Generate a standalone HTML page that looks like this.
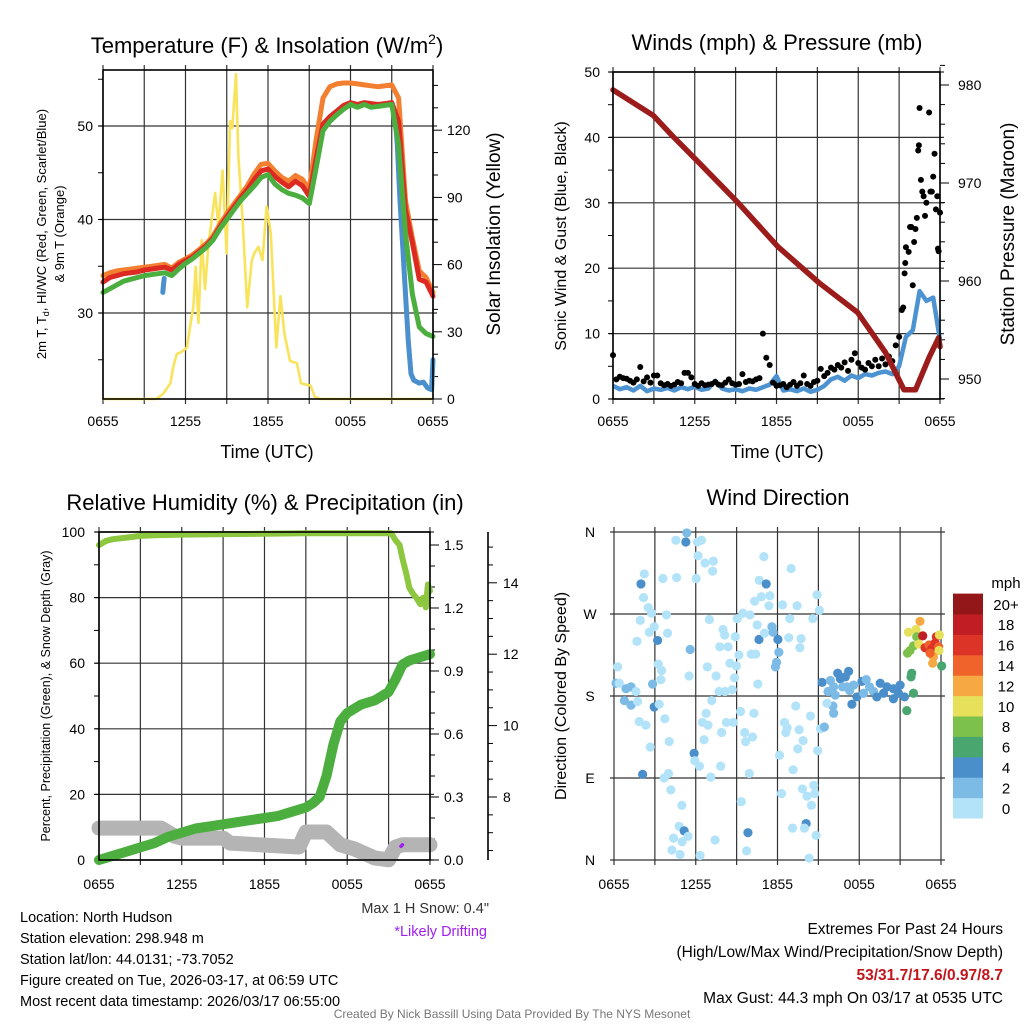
<!DOCTYPE html>
<html><head><meta charset="utf-8"><style>
html,body{margin:0;padding:0;background:#fff;}
svg{display:block;font-family:"Liberation Sans",sans-serif;}
</style></head><body>
<svg id="c" width="1024" height="1024" viewBox="0 0 1024 1024" xmlns="http://www.w3.org/2000/svg"></svg>
<script>
// ---------- DATA ----------
const tempHours = [0,0.5,1,1.5,2,2.5,3,3.5,4,4.5,5,5.5,6,6.5,7,7.5,8,8.5,9,9.5,10,10.5,11,11.5,12,12.5,13,13.5,14,14.5,15,15.5,16,16.5,17,17.5,18,18.5,19,19.5,20,20.5,21,21.5,22,22.5,23,23.5,24];
const tempRed = [33.3,33.8,34.0,34.2,34.3,34.4,34.6,34.7,34.8,34.9,34.6,35.2,35.6,36.0,36.6,37.2,38.0,39.2,40.3,41.3,42.3,43.2,44.3,45.2,45.4,44.6,44.0,43.5,44.1,43.6,42.5,46.5,50.2,51.0,51.6,52.2,52.5,52.3,52.5,52.4,52.3,52.4,52.5,50.5,41.0,37.5,33.6,33.3,31.8];
const temp9m = [34.0,34.3,34.5,34.6,34.7,34.8,34.9,35.0,35.1,35.2,34.8,35.4,35.8,36.2,36.8,37.4,38.2,39.5,40.6,41.6,42.6,43.6,44.9,45.9,46.0,45.2,44.5,44.1,44.7,44.3,43.2,48.5,53.0,54.2,54.5,54.6,54.6,54.5,54.4,54.3,54.2,54.3,54.4,53.0,42.0,38.0,34.5,33.8,32.2];
const dewGreen = [32.2,32.6,33.0,33.4,33.6,33.8,34.0,34.1,34.2,34.3,34.0,34.7,35.3,35.8,36.4,37.0,37.8,39.0,40.0,41.0,42.0,42.8,43.6,44.5,44.8,43.8,43.2,42.8,42.6,42.3,41.7,45.5,49.5,50.5,51.2,51.8,52.3,52.0,52.3,52.0,52.1,52.2,52.3,48.0,38.5,32.0,28.5,27.8,27.5];
const chillEarlyHours = [4.35,4.4,4.45];
const chillEarly = [32.2,33.0,33.7];
const chillLateHours = [21.25,21.4,21.6,21.8,22.0,22.2,22.4,22.6,23.0,23.3,23.6,23.9,24.0];
const chillLate = [51,48,42,37,32,27,23.5,22.8,22.5,22.6,22.0,21.8,25];
const solarHours = [0,3.9,4.4,4.9,5.1,5.36,5.7,6.1,6.33,6.57,6.74,6.94,7.18,7.42,7.66,8.15,8.39,8.7,8.99,9.24,9.4,9.67,9.84,10.15,10.49,10.82,11.0,11.3,11.6,11.9,12.2,12.6,12.9,13.2,13.6,14.1,14.4,15.1,15.4,15.8,24];
const solarValues = [0,0,2.5,7,14,20,21,23,32,41,59,34,71,49,68,92,77,102,65,124,121,145,109,80,41,62,65,68,62,86,74,23,46,29,17,16,7,6,1,0,0];
const tempTicks = [30,40,50];
const solarTicks = [0,30,60,90,120];
const timeLabels = ["0655","1255","1855","0055","0655"];

const windHours = tempHours;
const windSpeed = [2.0,1.5,1.8,1.3,2.0,1.2,1.6,1.4,1.7,1.3,1.8,1.5,1.9,1.4,1.6,2.8,1.6,1.3,1.5,1.2,1.6,1.4,1.8,2.2,3.5,1.3,1.5,1.2,1.6,1.1,1.4,2.0,3.0,3.4,2.8,3.6,3.2,3.8,3.6,4.0,4.2,3.8,5.0,9.5,10.5,16.5,15.0,15.5,9.0];
const gustEarly = [6.7,3.0,3.4,3.2,3.1,2.8,2.5,3.0,4.9,2.7,3.3,2.5,3.6,3.6,2.4,2.1,2.3,2.0,2.2,2.6,2.4,4.0,4.0,3.3,2.3,
 2.0,2.4,2.1,2.2,2.3,2.6,2.2,2.1,2.5,3.0,2.4,2.2,2.3,3.8,2.6,2.8,2.7,3.0,3.2,10.0,6.3,5.2,2.5,2.0,
 2.1,2.3,1.8,2.2,2.6,2.0,2.4,3.6,2.3,2.0,2.6,2.8,4.6,3.5,4.0,4.8,4.5,5.2,4.8,5.6,4.3,6.0,7.0,5.5,
 4.8,4.5,5.5,5.0,6.0,5.0,6.2,5.3,6.5,5.8,8.2,9.5];
const gustLateHours = [21.2,21.3,21.4,21.45,21.5,21.7,21.8,21.9,22.0,22.1,22.2,22.3,22.4,22.45,22.5,22.6,22.7,22.8,22.9,23.0,23.2,23.3,23.4,23.5,23.6,23.7,23.8,23.85,23.9,24.0];
const gustLate = [13.6,14,19.2,20.8,23.2,22.5,26.3,26.3,17.4,24,26,27.7,38,38.8,44.5,33.5,31.7,31,28,30,43.8,31.7,31.7,34,37.5,29,31,23,22.6,28.5];
const pressHours = [0,2.95,4.3,6.36,9.17,12.1,15.14,17.95,20.0,21.36,22.2,23.2,23.9,24.0];
const pressValues = [979.5,976.9,974.9,972,968,963.5,959.8,956.8,952.7,948.9,948.9,952.2,954.2,953.3];
const windTicks = [0,10,20,30,40,50];
const pressTicks = [950,960,970,980];

const rhHours = [0,0.5,1,2,3,4,6,10,15,20,21.2,21.5,21.8,22.0,22.3,22.5,22.8,23.0,23.3,23.5,23.7,23.85,24];
const rhValues = [96,97.3,97.8,98.3,98.8,99.0,99.2,99.4,99.6,99.6,99.6,97.5,96,92,87,83,81,80,78,80,77,84,82];
const precipHours = [0,1,2,3,4,5,6,7,8,9,10,11,12,13,14,15,15.5,16,16.5,17,17.5,18,19,20,21,21.5,22,22.5,23,24];
const precipValues = [0,0.02,0.04,0.06,0.08,0.11,0.13,0.15,0.16,0.17,0.18,0.19,0.2,0.21,0.23,0.25,0.27,0.3,0.4,0.55,0.66,0.7,0.74,0.76,0.8,0.86,0.93,0.95,0.96,0.98];
const snowHours = [0,4.5,5.5,6,9,9.5,14.5,15,16.5,17.5,18.5,20,21,21.5,22,24];
const snowValues = [7.13,7.13,6.9,6.85,6.85,6.71,6.6,7.02,7.02,6.66,6.55,6.29,6.24,6.6,6.66,6.66];
const driftHours = [5.4,5.45,21.9,22.0];
const driftValues = [7.02,7.0,6.62,6.66];
const pctTicks = [0,20,40,60,80,100];
const precipTicks = [0.0,0.3,0.6,0.9,1.2,1.5];
const snowTicks = [8,10,12,14];

const dirHours = [0.27,0.15,0.39,0.88,1.25,0.76,1.25,1.73,1.61,1.85,2.34,2.66,2.1,1.98,2.22,2.17,2.51,2.76,1.93,1.68,2.59,2.95,3.2,3.25,3.49,3.44,2.83,2.95,3.32,3.73,4.05,3.68,4.0,4.17,4.98,4.78,5.15,5.44,4.37,4.25,4.85,5.0,4.54,5.27,5.34,6.12,6.42,6.17,6.68,7.29,7.24,6.03,4.59,3.59,3.85,3.93,5.59,5.51,5.88,5.93,6.27,6.32,7.0,6.85,7.49,7.71,7.17,6.76,6.49,6.9,6.61,7.1,7.83,7.9,8.25,8.76,9.29,9.59,9.66,10.17,10.27,9.93,9.34,9.73,9.83,7.42,8.15,8.68,8.85,8.98,8.51,8.37,7.76,8.0,8.12,8.9,9.05,9.46,9.98,9.17,10.07,10.4,10.56,10.64,10.51,11.05,10.66,11.0,11.17,10.81,11.44,11.37,10.32,11.59,11.68,12.03,12.1,11.93,11.85,12.37,13.44,12.9,12.83,13.73,13.64,13.0,14.59,14.9,15.07,13.34,12.51,12.71,12.61,13.59,14.42,13.88,13.49,14.95,12.15,13.15,12.29,13.83,14.17,14.66,14.73,14.49,14.1,13.98,13.1,14.83,14.32,15.15,15.44,16.12,16.07,15.63,
15.27,15.88,16.42,16.61,16.98,17.22,16.12,17.1,17.59,18.2,18.51,18.76,19.05,19.54,20.03,20.51,21.0,17.83,18.32,19.29,20.51,21.32,15.71,17.46,16.24,16.78,17.29,19.78,20.88,
21.85,21.8,21.98,21.49,21.54,21.73,21.98,21.61,22.17,22.22,22.46,22.66,22.37,22.83,23.12,23.32,23.56,23.66,23.88,23.83,23.85,23.44,23.39,24.05,23.2];
const dirDegrees = [212,194,194,188,190,175,170,174,185,152,148,124,94,303,314,288,277,271,263,240,250,256,241,215,208,198,193,168,171,155,130,90,95,77,60,37,32,26,24,11,6,20,351,349,359,349,351,334,326,328,317,309,310,309,269,249,231,202,117,109,103,5,264,212,202,185,175,161,151,148,132,91,103,140,151,151,163,140,130,135,161,95,64,10,30,22,185,187,200,213,216,234,234,253,247,245,265,271,269,225,226,226,193,242,258,249,307,333,303,289,290,279,284,256,250,242,228,217,212,280,279,265,244,243,233,320,265,291,274,169,151,145,140,143,158,131,122,120,115,99,73,78,70,82,73,60,40,35,35,27,2,144,146,161,169,172,
195,197,205,199,201,207,190,190,192,196,198,190,185,194,190,188,192,179,183,179,177,179,185,171,181,190,186,183,183,
205,201,183,164,227,230,235,250,253,245,262,246,237,233,236,232,238,245,247,234,230,223,216,213,227];
const dirSpeed = [1,3,1,3,3,3,3,1,1,1,1,1,5,5,1,1,1,1,1,1,1,1,5,1,1,1,3,5,1,1,1,1,1,1,1,1,5,1,1,1,1,1,1,5,3,1,1,1,1,1,1,1,1,1,1,1,3,1,5,1,1,1,1,1,1,1,1,1,1,1,1,1,1,1,1,1,1,1,1,1,1,1,1,1,5,1,1,1,1,1,1,1,1,1,1,1,1,1,1,1,1,1,1,5,1,1,1,1,5,1,1,1,1,3,3,5,3,3,3,1,1,1,1,1,1,1,1,1,1,1,1,1,1,1,1,1,1,1,1,1,1,1,1,1,1,1,5,1,1,1,1,1,3,3,3,1,
5,3,5,5,5,5,3,3,3,5,3,3,3,5,5,5,5,5,3,5,5,5,3,5,3,3,3,5,5,
7,7,7,7,9,9,9,11,11,9,13,19,11,17,15,17,17,17,11,15,11,13,13,7,15];
const dirLabels = ["N","E","S","W","N"];
const speedBins = ["0","2","4","6","8","10","12","14","16","18","20+"];
const speedColors = ["#b3e3f8","#7cbbe5","#4a8fc9","#4aa66f","#7bc14b","#e6e05b","#f6a843","#f0632a","#dd3428","#c11d25","#931619"];

// ---------- HELPERS ----------
const NS = "http://www.w3.org/2000/svg";
const svg = document.getElementById("c");
function mk(tag, attrs, parent){
  const e = document.createElementNS(NS, tag);
  for (const k in attrs) e.setAttribute(k, attrs[k]);
  (parent || svg).appendChild(e);
  return e;
}
function txt(x, y, s, size, anchor, extra){
  const t = mk("text", Object.assign({x:x, y:y, "font-size":size, "text-anchor":anchor||"middle", fill:"#000"}, extra||{}));
  t.textContent = s;
  return t;
}
function pathFrom(xs, ys, fx, fy){
  let d = "";
  for (let i=0;i<xs.length;i++) d += (i?"L":"M") + fx(xs[i]).toFixed(1) + " " + fy(ys[i]).toFixed(1);
  return d;
}
function line(x1,y1,x2,y2,stroke,w){
  return mk("line",{x1:x1,y1:y1,x2:x2,y2:y2,stroke:stroke||"#000","stroke-width":w||1});
}
function grid(L,R,T,B,xs,ys){
  const g = mk("g",{});
  
  
  xs.forEach(x=>mk("line",{x1:x,y1:T-5,x2:x,y2:B+5,stroke:"#333","stroke-width":1.2},g));
  ys.forEach(y=>mk("line",{x1:L-4,y1:y,x2:R+4,y2:y,stroke:"#333","stroke-width":1.2},g));
  return g;
}
function frame(L,R,T,B){
  const r = mk("rect",{x:L,y:T,width:R-L,height:B-T,fill:"none",stroke:"#000","stroke-width":1.6});
  
  
}
function timeAxis(fx, y){
  for (let i=0;i<5;i++){
    const t = txt(fx(i*6), y, timeLabels[i], 14);
    
    
  }
}

// ---------- PANEL 1 ----------
const x1 = h => 103 + h*13.75;
const yT = t => 313 - (t-30)*9.35;
const yS = s => 399 - s*2.24;
{
  grid(103,433,70,399,[0,3,6,9,12,15,18,21,24].map(x1), tempTicks.map(yT));
  for (let v=25; v<=55; v+=5) line(98,yT(v),103,yT(v));
  for (let v=0; v<=140; v+=10) line(433,yS(v),v%30===0?442:438,yS(v));
  tempTicks.forEach(v=>{const t=txt(93,yT(v)+5,String(v),14,"end");  });
  solarTicks.forEach(v=>{const t=txt(447,yS(v)+5,String(v),14,"start");  });
  const sol = mk("path",{d:pathFrom(solarHours,solarValues,x1,yS),fill:"none",stroke:"#f9e35b","stroke-width":2.6,"stroke-linejoin":"round"});
  
  
  const bl1 = mk("path",{d:pathFrom(chillEarlyHours,chillEarly,x1,yT),fill:"none",stroke:"#4b90cc","stroke-width":5,"stroke-linecap":"round"});
  
  
  const bl2 = mk("path",{d:pathFrom(chillLateHours,chillLate,x1,yT),fill:"none",stroke:"#4b90cc","stroke-width":5,"stroke-linecap":"round","stroke-linejoin":"round"});
  
  
  const or = mk("path",{d:pathFrom(tempHours,temp9m,x1,yT),fill:"none",stroke:"#f37f30","stroke-width":5,"stroke-linecap":"round","stroke-linejoin":"round"});
  
  
  const rd = mk("path",{d:pathFrom(tempHours,tempRed,x1,yT),fill:"none",stroke:"#dc2a22","stroke-width":5,"stroke-linecap":"round","stroke-linejoin":"round"});
  
  
  const gr = mk("path",{d:pathFrom(tempHours,dewGreen,x1,yT),fill:"none",stroke:"#4cae3f","stroke-width":5,"stroke-linecap":"round","stroke-linejoin":"round"});
  
  
  frame(103,433,70,399);
  timeAxis(x1,426);
  const t1 = mk("text",{x:267,y:53,"font-size":22,"text-anchor":"middle"});
  t1.innerHTML = 'Temperature (F) &amp; Insolation (W/m<tspan font-size="14" dy="-9">2</tspan><tspan dy="9">)</tspan>';
  
  
  const xt = txt(267,458,"Time (UTC)",18);
  
  
  const yl = mk("text",{transform:"translate(46,234) rotate(-90)","font-size":13,"text-anchor":"middle"});
  yl.innerHTML = '2m T, T<tspan font-size="9" dy="3">d</tspan><tspan dy="-3">, HI/WC (Red, Green, Scarlet/Blue)</tspan>';
  
  
  const yl2 = mk("text",{transform:"translate(64,234) rotate(-90)","font-size":13,"text-anchor":"middle"});
  yl2.textContent = "& 9m T (Orange)";
  
  
  const yr = mk("text",{transform:"translate(500,234) rotate(-90)","font-size":19,"text-anchor":"middle"});
  yr.textContent = "Solar Insolation (Yellow)";
  
  
}

// ---------- PANEL 2 ----------
const x2 = h => 613 + h*13.625;
const yW = w => 399 - w*6.54;
const yP = p => 379 - (p-950)*9.8;
{
  grid(613,940,72,399,[0,3,6,9,12,15,18,21,24].map(x2), windTicks.map(yW));
  for (let v=0; v<=50; v+=5) line(608,yW(v),613,yW(v));
  for (let v=948; v<=982; v+=2) line(940,yP(v),v%10===0?949:945,yP(v));
  windTicks.forEach(v=>{const t=txt(600,yW(v)+5,String(v),14,"end");  });
  pressTicks.forEach(v=>{const t=txt(958,yP(v)+5,String(v),14,"start");  });
  const ws = mk("path",{d:pathFrom(windHours,windSpeed,x2,yW),fill:"none",stroke:"#4d93d1","stroke-width":4.5,"stroke-linejoin":"round"});
  
  
  const gg = mk("g",{fill:"#000"});
  
  
  gustEarly.forEach((v,i)=>{
    const c = mk("circle",{cx:x2(i*0.25),cy:yW(v),r:3},gg);
    
    
  });
  gustLate.forEach((v,i)=>{
    const c = mk("circle",{cx:x2(gustLateHours[i]),cy:yW(v),r:3},gg);
    
    
  });
  const pr = mk("path",{d:pathFrom(pressHours,pressValues,x2,yP),fill:"none",stroke:"#9c1b1b","stroke-width":5.5,"stroke-linecap":"round","stroke-linejoin":"round"});
  
  
  frame(613,940,72,399);
  timeAxis(x2,426);
  const t2 = txt(777,50,"Winds (mph) & Pressure (mb)",22);
  
  
  const xt = txt(777,458,"Time (UTC)",18);
  
  
  const yl = mk("text",{transform:"translate(566,236) rotate(-90)","font-size":16,"text-anchor":"middle"});
  yl.textContent = "Sonic Wind & Gust (Blue, Black)";
  
  
  const yr = mk("text",{transform:"translate(1014,234) rotate(-90)","font-size":19,"text-anchor":"middle"});
  yr.textContent = "Station Pressure (Maroon)";
  
  
}

// ---------- PANEL 3 ----------
const x3 = h => 99 + h*13.79;
const yR = r => 860 - r*3.28;
const yPr = v => 860 - v*210;
const ySn = s => 797 - (s-8)*35.7;
{
  grid(99,430,532,860,[0,3,6,9,12,15,18,21,24].map(x3), pctTicks.map(yR));
  for (let v=0; v<=100; v+=10) line(94,yR(v),99,yR(v));
  for (let v=0; v<=1.5001; v+=0.1) line(430,yPr(v),Math.round(v*10)%3===0?439:435,yPr(v));
  line(488,532,488,860,"#000",1.6);
  for (let v=6.5; v<=15.2; v+=0.5) line(488,ySn(v),v%2===0?497:493,ySn(v));
  pctTicks.forEach(v=>{const t=txt(85,yR(v)+5,String(v),14,"end");  });
  precipTicks.forEach(v=>{const t=txt(444,yPr(v)+5,v.toFixed(1),14,"start");  });
  snowTicks.forEach(v=>{const t=txt(503,ySn(v)+5,String(v),14,"start");  });
  const sn = mk("path",{d:pathFrom(snowHours,snowValues,x3,ySn),fill:"none",stroke:"#b4b4b4","stroke-width":15,"stroke-linecap":"round","stroke-linejoin":"round"});
  
  
  const dr1 = mk("path",{d:pathFrom(driftHours.slice(0,2),driftValues.slice(0,2),x3,ySn),fill:"none",stroke:"#a020f0","stroke-width":3.5,"stroke-linecap":"round"});
  
  
  const dr2 = mk("path",{d:pathFrom(driftHours.slice(2),driftValues.slice(2),x3,ySn),fill:"none",stroke:"#a020f0","stroke-width":3.5,"stroke-linecap":"round"});
  
  
  const pc = mk("path",{d:pathFrom(precipHours,precipValues,x3,yPr),fill:"none",stroke:"#4cae3e","stroke-width":10,"stroke-linecap":"round","stroke-linejoin":"round"});
  
  
  const rh = mk("path",{d:pathFrom(rhHours,rhValues,x3,yR),fill:"none",stroke:"#8dc63f","stroke-width":6,"stroke-linecap":"round","stroke-linejoin":"round"});
  
  
  frame(99,430,532,860);
  timeAxis(x3,889);
  const t3 = txt(265,510,"Relative Humidity (%) & Precipitation (in)",22);
  
  
  const yl = mk("text",{transform:"translate(50,696) rotate(-90)","font-size":12.5,"text-anchor":"middle"});
  yl.textContent = "Percent, Precipitation (Green), & Snow Depth (Gray)";
  
  
}

// ---------- PANEL 4 ----------
const x4 = h => 614 + h*13.625;
const yD = d => 860 - d*0.9111;
{
  grid(614,941,532,860,[0,3,6,9,12,15,18,21,24].map(x4), [0,90,180,270,360].map(yD));
  dirLabels.forEach((s,i)=>{const t=txt(590,yD(i*90)+5,s,14);  });
  const pg = mk("g",{});
  
  
  dirHours.forEach((h,i)=>{
    const bin = Math.min(10, Math.floor(dirSpeed[i]/2));
    const c = mk("circle",{cx:x4(h),cy:yD(dirDegrees[i]),r:4.6,fill:speedColors[bin]},pg);
    
    
  });
  timeAxis(x4,889);
  const t4 = txt(778,505,"Wind Direction",22);
  
  
  const yl = mk("text",{transform:"translate(566,696) rotate(-90)","font-size":16,"text-anchor":"middle"});
  yl.textContent = "Direction (Colored By Speed)";
  
  
  const cb = mk("g",{});
  
  
  const h = 20.4;
  speedBins.forEach((s,i)=>{
    const y = 818 - (i+1)*h;
    const r = mk("rect",{x:953,y:y,width:30,height:h+0.5,fill:speedColors[i]},cb);
    
    
    const t = txt(1006,y+h/2+6,s,15,"middle");
    
    
  });
  const mu = txt(1006,588,"mph",15);
  
  
}

// ---------- FOOTER TEXT ----------
{
  const left = ["Location: North Hudson","Station elevation: 298.948 m","Station lat/lon: 44.0131; -73.7052","Figure created on Tue, 2026-03-17, at 06:59 UTC","Most recent data timestamp: 2026/03/17 06:55:00"];
  left.forEach((s,i)=>{const t=txt(20,922+i*21,s,14.5,"start");  });
  const ms = txt(489,913,'Max 1 H Snow: 0.4"',14.5,"end",{fill:"#333"});
  
  
  const ld = txt(487,936,"*Likely Drifting",14.5,"end",{fill:"#a020f0"});
  
  
  const r1 = txt(1003,934,"Extremes For Past 24 Hours",15.5,"end");
  
  
  const r2 = txt(1003,957,"(High/Low/Max Wind/Precipitation/Snow Depth)",15.5,"end");
  
  
  const r3 = txt(1003,980,"53/31.7/17.6/0.97/8.7",15.5,"end",{fill:"#c3161c","font-weight":"bold"});
  
  
  const r4 = txt(1003,1003,"Max Gust: 44.3 mph On 03/17 at 0535 UTC",15.5,"end");
  
  
  const cr = txt(512,1018,"Created By Nick Bassill Using Data Provided By The NYS Mesonet",12,"middle",{fill:"#777"});
  
  
}
</script>
</body></html>
